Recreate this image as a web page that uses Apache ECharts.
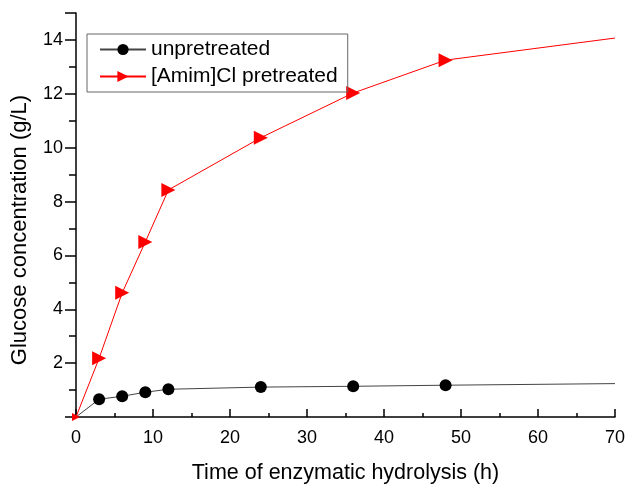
<!DOCTYPE html>
<html>
<head>
<meta charset="utf-8">
<script src="https://cdn.jsdelivr.net/npm/echarts@6/dist/echarts.min.js"></script>
<style>html,body{margin:0;padding:0;background:#fff;}#c{width:628px;height:489px;}</style>
</head>
<body>
<div id="c"></div>
<script>
var times = [0, 3, 6, 9, 12, 24, 36, 48, 70];
var unpretreated = [0, 0.66, 0.77, 0.92, 1.03, 1.11, 1.14, 1.18, 1.24];
var amimPretreated = [0, 2.18, 4.61, 6.5, 8.43, 10.37, 12.03, 13.25, 14.07];
var seriesNames = ['unpretreated', '[Amim]Cl pretreated'];
// which points are measured (shown with a marker)
var unpretreatedMarked = [false, true, true, true, true, true, true, true, false];
var amimMarked = [true, true, true, true, true, true, true, true, false];

function build(vals, marked, originSize) {
  return vals.map(function (v, i) {
    var d = { value: [times[i], v] };
    if (!marked[i]) d.symbol = 'none';
    else if (times[i] === 0) d.symbolSize = originSize;
    return d;
  });
}

var font = 'Liberation Sans, Arial, sans-serif';
var chart = echarts.init(document.getElementById('c'));
chart.setOption({
  backgroundColor: '#ffffff',
  animation: false,
  grid: { left: 76, right: 12, top: 13, bottom: 67 },
  legend: {
    orient: 'vertical',
    left: 87, top: 34,
    padding: [5, 10, 5, 12],
    itemWidth: 46, itemHeight: 14, itemGap: 6,
    borderColor: '#666', borderWidth: 1,
    textStyle: { fontFamily: font, fontSize: 21, color: '#000' },
    data: seriesNames
  },
  xAxis: {
    type: 'value', min: 0, max: 70, interval: 10,
    name: 'Time of enzymatic hydrolysis (h)',
    nameLocation: 'middle', nameGap: 45,
    nameTextStyle: { fontFamily: font, fontSize: 21.5, color: '#000' },
    axisLine: { show: true, onZero: false, lineStyle: { color: '#000', width: 1.5 } },
    axisTick: { show: true, inside: true, length: 8, lineStyle: { color: '#000', width: 1.5 } },
    minorTick: { show: true, splitNumber: 2, length: 4, lineStyle: { color: '#000', width: 1.5 } },
    axisLabel: { fontFamily: font, fontSize: 18, color: '#000', margin: 12 },
    splitLine: { show: false }
  },
  yAxis: {
    type: 'value', min: 0, max: 15, interval: 2,
    name: 'Glucose concentration (g/L)',
    nameLocation: 'middle', nameGap: 45,
    nameTextStyle: { fontFamily: font, fontSize: 22, color: '#000', padding: [0, 30, 0, 0] },
    axisLine: { show: true, onZero: false, lineStyle: { color: '#000', width: 1.5 } },
    axisTick: { show: true, inside: false, length: 11, lineStyle: { color: '#000', width: 1.5 } },
    minorTick: { show: true, splitNumber: 2, length: 7, lineStyle: { color: '#000', width: 1.5 } },
    axisLabel: { fontFamily: font, fontSize: 18, color: '#000', margin: 13, showMinLabel: false, showMaxLabel: false },
    splitLine: { show: false }
  },
  series: [
    {
      name: seriesNames[0], type: 'line',
      data: build(unpretreated, unpretreatedMarked, 12),
      symbol: 'circle', symbolSize: 12,
      itemStyle: { color: '#000' },
      lineStyle: { color: '#444', width: 1 },
      clip: false
    },
    {
      name: seriesNames[1], type: 'line',
      data: build(amimPretreated, amimMarked, 8),
      symbol: 'triangle', symbolSize: 14, symbolRotate: -90,
      itemStyle: { color: '#ff0000' },
      lineStyle: { color: '#ff0000', width: 1 },
      clip: false
    }
  ]
});
</script>
</body>
</html>
